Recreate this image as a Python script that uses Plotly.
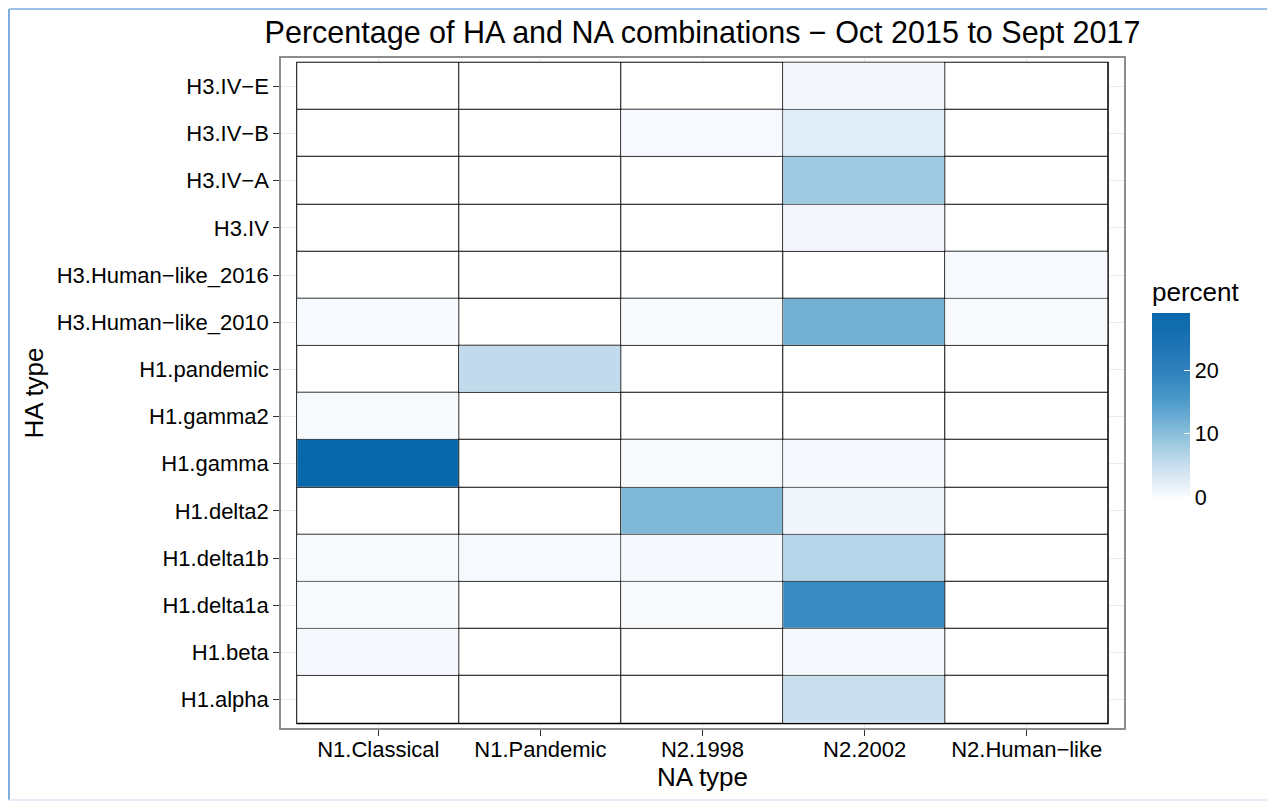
import plotly.graph_objects as go

# ---------------- data ----------------
ha_types = ["H1.alpha", "H1.beta", "H1.delta1a", "H1.delta1b", "H1.delta2",
            "H1.gamma", "H1.gamma2", "H1.pandemic", "H3.Human\u2212like_2010",
            "H3.Human\u2212like_2016", "H3.IV", "H3.IV\u2212A", "H3.IV\u2212B", "H3.IV\u2212E"]
na_types = ["N1.Classical", "N1.Pandemic", "N2.1998", "N2.2002", "N2.Human\u2212like"]

# percent per HA type (same order as ha_types); None = combination not observed
n1_classical = [None, 0.4, 0.2, 0.2, None, 29.0, 0.2, None, 0.3, None, None, None, None, None]
n1_pandemic  = [None, None, None, 0.3, None, None, None, 5.5, None, None, None, None, None, None]
n2_1998      = [None, None, 0.2, 0.4, 10.8, 0.2, None, None, 0.2, None, None, None, 0.3, None]
n2_2002      = [4.8, 0.4, 18.0, 6.5, 1.0, 0.4, None, None, 11.8, None, 0.6, 8.5, 2.3, 0.6]
n2_humanlike = [None, None, None, None, None, None, None, None, 0.2, 0.3, None, None, None, None]

series = [n1_classical, n1_pandemic, n2_1998, n2_2002, n2_humanlike]
z = [[s[i] for s in series] for i in range(len(ha_types))]
z_base = [[0 for _ in na_types] for _ in ha_types]

colorscale = [
    [0.00, "rgb(249,251,254)"],
    [0.07, "rgb(228,239,247)"],
    [0.17, "rgb(200,222,238)"],
    [0.29, "rgb(158,202,225)"],
    [0.38, "rgb(125,183,214)"],
    [0.45, "rgb(100,168,210)"],
    [0.55, "rgb(70,150,200)"],
    [0.69, "rgb(46,128,188)"],
    [0.86, "rgb(25,113,178)"],
    [1.00, "rgb(8,104,172)"],
]

FONT = "Liberation Sans, Arial, sans-serif"

# page offset of the figure (browser body margin)
OFF = 8
PL, PR, PT, PB = 281, 1124, 58, 728          # desired plot area on the page
PW, PH = PR - PL, PB - PT

fig = go.Figure()
fig.add_trace(go.Heatmap(
    x=na_types, y=ha_types, z=z_base,
    colorscale=[[0, "white"], [1, "white"]], showscale=False,
    xgap=1, ygap=1, hoverinfo="skip"))
fig.add_trace(go.Heatmap(
    x=na_types, y=ha_types, z=z,
    zmin=0, zmax=29, colorscale=colorscale, xgap=1, ygap=1,
    colorbar=dict(
        title=dict(text="percent", side="top", font=dict(size=26, color="black", family=FONT)),
        thickness=38, thicknessmode="pixels",
        len=219, lenmode="pixels",
        x=(1152 - PL) / PW, xanchor="left", xpad=0,
        y=(PB - 278) / PH, yanchor="top", ypad=0,
        outlinewidth=0,
        tickvals=[0, 10, 20], ticks="inside", tickcolor="white", ticklen=6,
        tickfont=dict(size=21.5, color="black", family=FONT),
    ),
    hovertemplate="%{y} / %{x}: %{z}%<extra></extra>"))

# black tile borders (visible through the heatmap gaps)
fig.add_shape(type="rect", xref="x", yref="y",
              x0=-0.5, x1=len(na_types) - 0.5, y0=-0.5, y1=len(ha_types) - 0.5,
              fillcolor="black", line=dict(color="black", width=2), layer="between")

# outer frame of the picture
fx0 = (9 - PL) / PW
fx1 = (1290 - PL) / PW
fy_top = (PB - 9) / PH
fy_bot = (PB - 800) / PH
fig.add_shape(type="line", xref="paper", yref="paper", x0=fx0, x1=fx0, y0=fy_bot, y1=fy_top,
              line=dict(color="#7fadde", width=2), layer="above")
fig.add_shape(type="line", xref="paper", yref="paper", x0=fx0, x1=fx1, y0=fy_top, y1=fy_top,
              line=dict(color="#9fc0e6", width=2), layer="above")
fig.add_shape(type="line", xref="paper", yref="paper", x0=fx0, x1=fx1, y0=fy_bot, y1=fy_bot,
              line=dict(color="#e2ecf7", width=2), layer="above")

axis_common = dict(
    showline=True, mirror=True, linecolor="#8c8c8c", linewidth=1.5,
    showgrid=True, gridcolor="#ebebeb", gridwidth=1, zeroline=False,
    ticks="outside", ticklen=6, tickcolor="#333333", tickwidth=1.2,
    tickfont=dict(size=22, color="black", family=FONT),
)
fig.update_xaxes(**axis_common, range=[-0.6, len(na_types) - 0.4], ticklabelstandoff=-5,
                 title=dict(text="NA type", font=dict(size=26, color="black", family=FONT), standoff=3))
fig.update_yaxes(**axis_common, range=[-0.6, len(ha_types) - 0.4],
                 title=dict(text="HA type", font=dict(size=26, color="black", family=FONT), standoff=6))

fig.update_layout(
    width=1275 - OFF, height=803 - OFF,
    margin=dict(l=PL - OFF, r=1275 - PR, t=PT - OFF, b=803 - PB, autoexpand=False),
    paper_bgcolor="white", plot_bgcolor="white",
    title=dict(text="Percentage of HA and NA combinations \u2212 Oct 2015 to Sept 2017",
               x=0.5, xref="paper", xanchor="center",
               y=1 - (32 - OFF) / (803 - OFF), yref="container", yanchor="middle",
               font=dict(size=30.5, color="black", family=FONT)),
    font=dict(family=FONT, color="black"),
)

fig.write_html("out.html")
